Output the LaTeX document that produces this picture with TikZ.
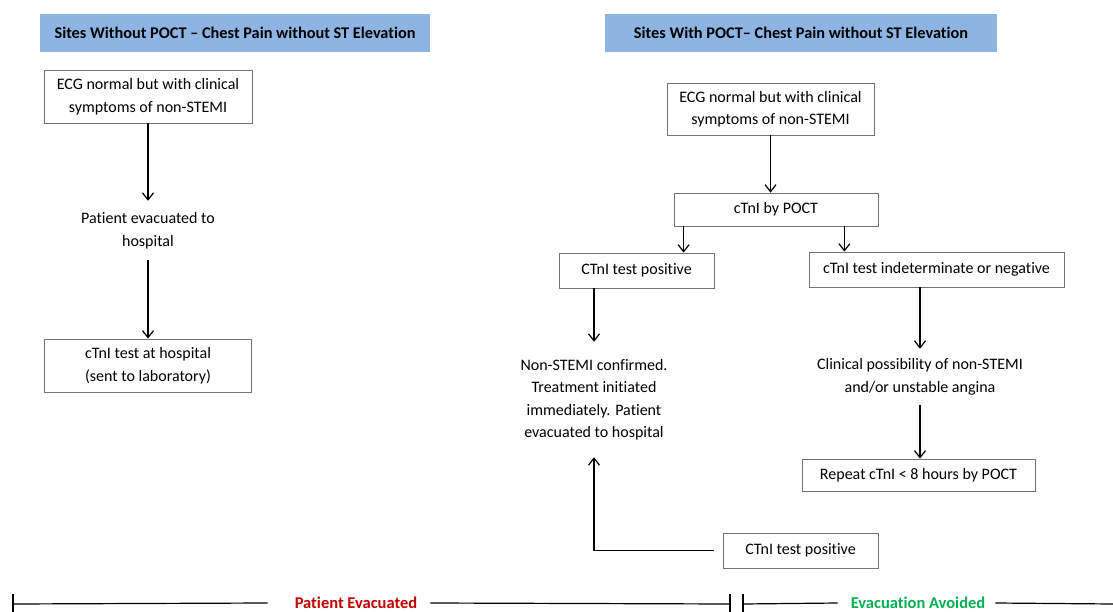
\documentclass[tikz,border=0pt]{standalone}
\usepackage{fontspec}
\setmainfont{Carlito}[Ligatures=NoCommon]
\usetikzlibrary{arrows.meta,calc}
\definecolor{hdr}{HTML}{8DB4E2}
\definecolor{evred}{HTML}{C00000}
\definecolor{evgreen}{HTML}{00B050}
\begin{document}
\begin{tikzpicture}[x=1pt,y=-1pt,
  every node/.style={font=\fontsize{16}{22.5}\selectfont, align=center, inner sep=0pt},
  hdrbox/.style={fill=hdr, minimum height=38pt, font=\fontsize{16.3}{22}\selectfont\bfseries},
  flowbox/.style={draw=black!55, line width=0.8pt},
  arr/.style={line width=1.2pt, -{Straight Barb[length=7pt,width=11pt,line width=1.2pt]}},
  plain/.style={line width=1.2pt},
  lbl/.style={font=\fontsize{16.5}{22}\selectfont\bfseries}]
\useasboundingbox (0,0) rectangle (1113,612);
% headers
\node[hdrbox, minimum width=390pt] (hL) at (235,33) {Sites Without POCT – Chest Pain without ST Elevation};
\node[hdrbox, minimum width=392pt] (hR) at (801,33) {Sites With POCT– Chest Pain without ST Elevation};
% left column
\node[flowbox, minimum width=208pt, minimum height=53pt] (L1) at (148,96.5) {ECG normal but with clinical\\symptoms of non-STEMI};
\node[minimum height=59pt] (L2) at (148,230.5) {Patient evacuated to\\hospital};
\node[flowbox, minimum width=207pt, minimum height=53pt] (L3) at (148,365.5) {cTnI test at hospital\\(sent to laboratory)};
\draw[arr] (L1) -- (L2);
\draw[arr] (L2) -- (L3);
% right column
\node[flowbox, minimum width=207pt, minimum height=52pt] (R1) at (770.5,109) {ECG normal but with clinical\\symptoms of non-STEMI};
\node[flowbox, minimum width=204pt, minimum height=33pt] (R2) at (776,209.5) {cTnI by POCT};
\node[flowbox, minimum width=155pt, minimum height=35pt] (R3) at (636.5,270.5) {CTnI test positive};
\node[flowbox, minimum width=255pt, minimum height=35pt] (R4) at (936.5,269.5) {cTnI test indeterminate or negative};
\node[minimum height=115pt] (R5) at (594,399.5) {Non-STEMI confirmed.\\Treatment initiated\\immediately. Patient\\evacuated to hospital};
\node[minimum height=56pt] (R6) at (920,377) {Clinical possibility of non-STEMI\\and/or unstable angina};
\node[flowbox, minimum width=233pt, minimum height=32pt] (R7) at (918.5,475) {Repeat cTnI < 8 hours by POCT};
\node[flowbox, minimum width=155pt, minimum height=35pt] (R8) at (800.5,550.5) {CTnI test positive};
\draw[arr] (R1) -- (R1 |- R2.north);
\draw[arr] ([xshift=10pt]R2.south west) -- ([xshift=10pt]R2.south west |- R3.north);
\draw[arr] ([xshift=-34pt]R2.south east) -- ([xshift=-34pt]R2.south east |- R4.north);
\draw[arr] (R3.south -| R5) -- (R5.north);
\draw[arr] (R4.south -| R6) -- (R6.north);
\draw[arr] (R6.south) -- (R6.south |- R7.north);
\draw[arr, shorten <=9pt] (R8.west) -| (R5.south);
% bottom timeline
\coordinate (b0) at (13,604);
\coordinate (b1) at (730,604);
\coordinate (b2) at (743,604);
\coordinate (b3) at (1113,604);
\node[lbl, text=evred] (pe) at (356,603) {Patient Evacuated};
\node[lbl, text=evgreen] (ea) at (918,603) {Evacuation Avoided};
\draw[plain] (b0) -- ([xshift=-27pt]pe.west);
\draw[plain] ([xshift=13pt]pe.east) -- (b1);
\draw[plain] (b2) -- ([xshift=-13pt]ea.west);
\draw[plain] ([xshift=10pt]ea.east) -- (b3);
\draw[plain] ([yshift=10pt]b0) -- ([yshift=-8pt]b0);
\draw[plain] ([yshift=10pt]b1) -- ([yshift=-8pt]b1);
\draw[plain] ([yshift=10pt]b2) -- ([yshift=-8pt]b2);
\end{tikzpicture}
\end{document}
